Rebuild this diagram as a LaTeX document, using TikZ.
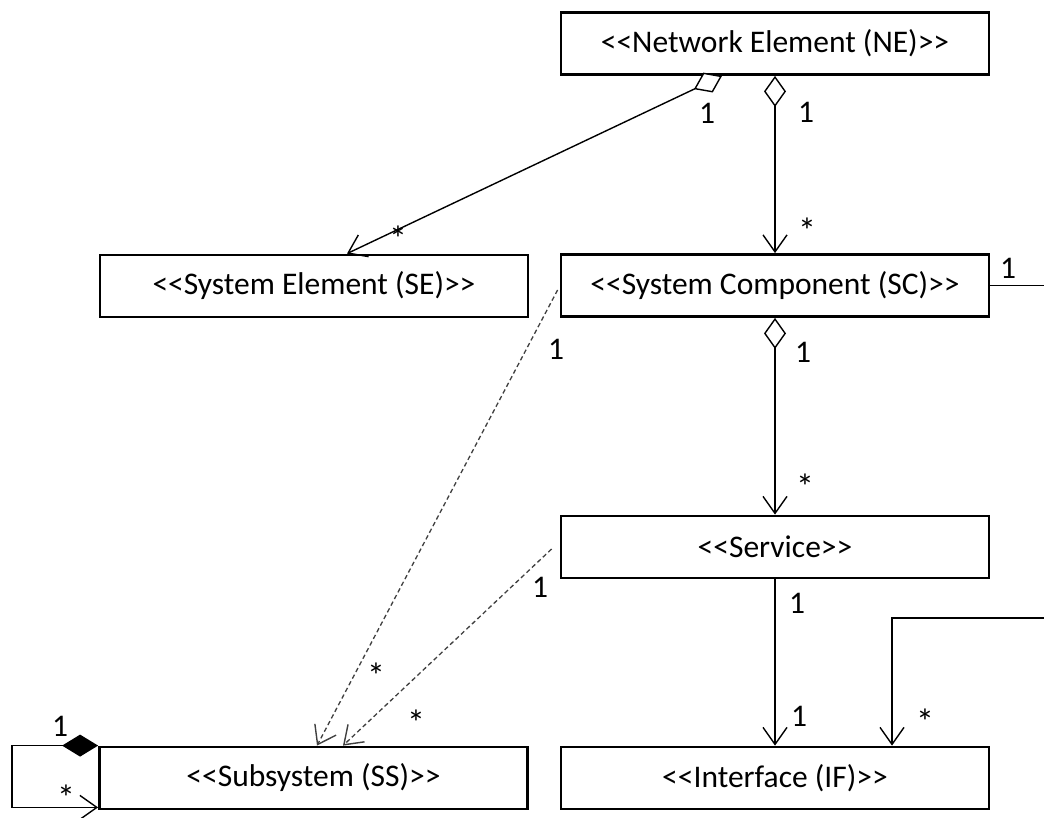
\documentclass[tikz,border=0pt]{standalone}
\usepackage{fontspec}
\setmainfont{Carlito}[Ligatures=TeXOff]
\usetikzlibrary{arrows.meta,calc}
\begin{document}
\begin{tikzpicture}[x=1pt,y=-1pt,
  cls/.style={draw, line width=2.8pt, minimum width=428pt, minimum height=62pt,
              inner sep=0pt, font=\fontsize{31.5}{36}\selectfont},
  lbl/.style={inner sep=0pt, anchor=base, font=\fontsize{31.5}{36}\selectfont},
  star/.style={lbl, font=\fontsize{36}{40}\selectfont},
  link/.style={line width=1.4pt, black},
  dep/.style={line width=1.3pt, black!75, dash pattern=on 4.5pt off 3pt},
  openv/.tip={Straight Barb[length=17pt,width=24pt,line width=1.4pt]},
  odiam/.tip={Diamond[fill=white,length=31pt,width=22pt,line width=1.4pt]},
  fdiam/.tip={Diamond[length=36pt,width=22pt]}
]
\useasboundingbox (0,0) rectangle (1044,817);
\fill[white] (0,0) rectangle (1044,817);
\clip (0,0) rectangle (1044,817);

% classes
\node[cls] (NE) at (775,43.5) {<<Network Element (NE)>>};
\node[cls] (SE) at (314,286)  {<<System Element (SE)>>};
\node[cls] (SC) at (775,285.5) {<<System Component (SC)>>};
\node[cls] (SV) at (775,547)  {<<Service>>};
\node[cls] (IF) at (775,778)  {<<Interface (IF)>>};
\node[cls] (SS) at (313.5,778) {<<Subsystem (SS)>>};

% aggregations and associations
\draw[link, {odiam}-{openv}] ([xshift=-53pt]NE.south) -- ([xshift=33pt]SE.north);
\draw[link, {odiam}-{openv}] (NE.south) -- (SC.north);
\draw[link, {odiam}-{openv}] (SC.south) -- (SV.north);
\draw[link, -{openv}] (SV.south) -- (IF.north);

\coordinate (bend) at (1070,618);
\draw[link, -{openv}] (SC.east) -| (bend) -| ([xshift=117pt]IF.north);

% self aggregation of subsystems
\draw[link, {fdiam}-{openv}] (SS.north west) -- ++(-86,0) |- ([yshift=3pt]SS.south west);

% dependencies
\draw[dep, -{openv}] ([shift={(-2pt,-4.5pt)}]SC.west) -- ([xshift=3.5pt]SS.north);
\draw[dep, -{openv}] ([shift={(-8pt,-2pt)}]SV.west) -- ([xshift=29.5pt]SS.north);

% multiplicities
\node[lbl]  (m1)  at (707,123)  {1};
\node[star] (m2)  at (398,251)  {*};
\node[lbl]  (m3)  at (806,122)  {1};
\node[star] (m4)  at (807,243)  {*};
\node[lbl]  (m5)  at (803,362)  {1};
\node[star] (m6)  at (805,499)  {*};
\node[lbl]  (m7)  at (797,613)  {1};
\node[lbl]  (m8)  at (799,726)  {1};
\node[lbl]  (m9)  at (1008,278) {1};
\node[star] (m10) at (925,734)  {*};
\node[lbl]  (m11) at (556,359)  {1};
\node[star] (m12) at (376,688)  {*};
\node[lbl]  (m13) at (540,597)  {1};
\node[star] (m14) at (416,735)  {*};
\node[lbl]  (m15) at (60,736)   {1};
\node[star] (m16) at (66,810)   {*};
\end{tikzpicture}
\end{document}
